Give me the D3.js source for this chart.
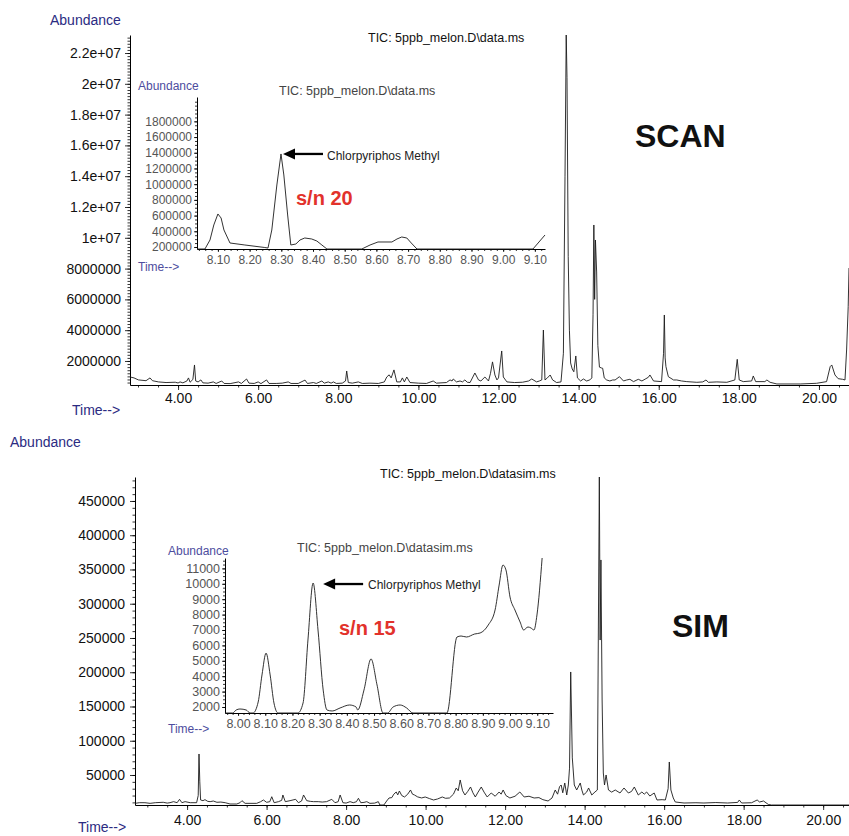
<!DOCTYPE html>
<html>
<head>
<meta charset="utf-8">
<script src="https://cdn.jsdelivr.net/npm/d3@7"></script>
<style>
body { margin: 0; background: #fff; }
svg text { font-family: "Liberation Sans", Arial, sans-serif; }
</style>
</head>
<body>
<div id="view"></div>
<script>
// ---- data: [retention time (min), abundance] ----
const scanTrace = [
  [2.80, 961000], [2.90, 900000], [3.01, 770000], [3.20, 720000], [3.30, 900000], [3.36, 720000],
  [3.51, 640000], [3.70, 600000], [3.93, 620000], [4.00, 571000], [4.05, 640000], [4.12, 580000],
  [4.22, 700000], [4.26, 900000], [4.30, 620000], [4.37, 800000], [4.41, 1740000], [4.44, 700000],
  [4.50, 640000], [4.57, 770000], [4.62, 580000], [4.75, 560000], [4.88, 640000], [4.95, 540000],
  [5.09, 700000], [5.15, 540000], [5.30, 530000], [5.51, 640000], [5.58, 540000], [5.71, 830000],
  [5.77, 560000], [5.90, 540000], [6.00, 640000], [6.07, 530000], [6.21, 770000], [6.27, 540000],
  [6.45, 540000], [6.60, 560000], [6.75, 640000], [6.82, 540000], [7.00, 540000], [7.17, 760000],
  [7.23, 540000], [7.38, 600000], [7.45, 540000], [7.59, 700000], [7.65, 560000], [7.75, 640000],
  [7.82, 560000], [7.88, 640000], [7.95, 540000], [8.10, 560000], [8.18, 700000], [8.21, 1350000],
  [8.25, 600000], [8.35, 560000], [8.50, 640000], [8.60, 540000], [8.79, 560000], [9.00, 540000],
  [9.15, 640000], [9.21, 960000], [9.27, 1100000], [9.32, 900000], [9.39, 1420000], [9.46, 640000],
  [9.55, 640000], [9.60, 900000], [9.65, 640000], [9.71, 960000], [9.79, 600000], [10.00, 560000],
  [10.20, 540000], [10.37, 700000], [10.45, 560000], [10.70, 600000], [10.79, 770000], [10.84, 700000],
  [10.87, 830000], [10.95, 640000], [11.04, 700000], [11.10, 640000], [11.16, 770000], [11.22, 620000],
  [11.29, 600000], [11.41, 1220000], [11.50, 770000], [11.56, 700000], [11.66, 960000], [11.75, 700000],
  [11.80, 1200000], [11.85, 1940000], [11.91, 1090000], [11.96, 770000], [12.00, 900000], [12.08, 2650000],
  [12.12, 960000], [12.21, 640000], [12.40, 600000], [12.60, 620000], [12.75, 700000], [12.83, 830000],
  [12.95, 640000], [13.02, 700000], [13.08, 770000], [13.12, 4010000], [13.16, 770000], [13.22, 900000],
  [13.29, 1090000], [13.35, 770000], [13.45, 600000], [13.56, 640000], [13.62, 2500000], [13.66, 14000000],
  [13.69, 23169000], [13.71, 20400000], [13.74, 8800000], [13.77, 4000000], [13.80, 1870000], [13.84, 1480000],
  [13.88, 1300000], [13.93, 2325000], [13.97, 900000], [14.05, 700000], [14.12, 830000], [14.20, 700000],
  [14.28, 770000], [14.33, 900000], [14.36, 5000000], [14.38, 10831000], [14.40, 6000000], [14.42, 9857000],
  [14.45, 7779000], [14.48, 3000000], [14.52, 1600000], [14.57, 1545000], [14.60, 1526000], [14.64, 900000],
  [14.70, 766000], [14.78, 701000], [14.85, 766000], [14.91, 766000], [15.02, 980000], [15.12, 701000],
  [15.20, 766000], [15.28, 810000], [15.37, 660000], [15.49, 810000], [15.58, 701000], [15.68, 850000],
  [15.74, 940000], [15.78, 1091000], [15.87, 701000], [16.07, 660000], [16.12, 2500000], [16.14, 4987000],
  [16.16, 2200000], [16.18, 1632000], [16.24, 980000], [16.37, 766000], [16.45, 766000], [16.57, 701000],
  [16.70, 660000], [16.95, 615000], [17.10, 640000], [17.18, 766000], [17.24, 615000], [17.45, 640000],
  [17.70, 615000], [17.90, 766000], [17.96, 2108000], [18.01, 766000], [18.11, 660000], [18.32, 701000],
  [18.36, 1026000], [18.42, 660000], [18.65, 660000], [18.70, 766000], [18.78, 615000], [18.95, 506000],
  [19.53, 506000], [19.94, 550000], [20.19, 660000], [20.28, 1632000], [20.32, 1740000], [20.40, 1091000],
  [20.48, 850000], [20.59, 810000], [20.65, 766000], [20.69, 2714000], [20.73, 5526000], [20.75, 8039000]
];

const simTrace = [
  [2.69, 8600], [2.80, 9560], [2.94, 9560], [3.07, 8600], [3.20, 9560], [3.40, 10150], [3.50, 9000],
  [3.57, 9560], [3.66, 11100], [3.75, 9560], [3.81, 14500], [3.87, 9560], [3.95, 11100], [4.08, 9560],
  [4.24, 9560], [4.28, 20000], [4.30, 80660], [4.32, 40000], [4.34, 13500], [4.40, 12500], [4.45, 14000],
  [4.52, 11500], [4.58, 11100], [4.66, 12000], [4.75, 10150], [4.85, 10500], [4.96, 9560], [5.08, 7660],
  [5.25, 7660], [5.33, 9500], [5.38, 12500], [5.46, 8600], [5.75, 8600], [5.85, 11000], [5.92, 13500],
  [6.00, 10150], [6.08, 11000], [6.13, 18300], [6.19, 9560], [6.30, 11100], [6.38, 13000], [6.41, 20800],
  [6.47, 11100], [6.59, 12500], [6.73, 14500], [6.80, 9560], [6.88, 12000], [6.93, 20800], [7.01, 12500],
  [7.10, 11500], [7.18, 11100], [7.30, 11100], [7.40, 10500], [7.51, 11100], [7.64, 14500], [7.72, 9560],
  [7.80, 11000], [7.85, 20800], [7.92, 9560], [8.00, 9000], [8.10, 11100], [8.18, 9560], [8.26, 11000],
  [8.31, 16000], [8.37, 9560], [8.45, 10000], [8.52, 11100], [8.60, 8600], [8.72, 9000], [8.81, 11100],
  [8.85, 6200], [8.95, 6200], [9.02, 12000], [9.08, 16420], [9.15, 17000], [9.20, 22000], [9.26, 25180],
  [9.30, 21000], [9.34, 26640], [9.40, 20000], [9.47, 17880], [9.55, 22000], [9.62, 28100], [9.67, 22000],
  [9.72, 20800], [9.80, 18000], [9.90, 16500], [9.99, 17880], [10.10, 15500], [10.20, 13500], [10.30, 15000],
  [10.42, 17880], [10.50, 16000], [10.60, 16420], [10.70, 22000], [10.77, 31020], [10.82, 27000],
  [10.87, 42700], [10.93, 27000], [10.99, 20800], [11.06, 26000], [11.13, 32480], [11.19, 24000],
  [11.25, 17880], [11.32, 25000], [11.40, 32480], [11.47, 25000], [11.55, 17880], [11.65, 23720],
  [11.75, 19000], [11.85, 25180], [11.90, 22000], [11.95, 28100], [12.02, 20000], [12.12, 16420],
  [12.25, 19000], [12.37, 25180], [12.48, 17880], [12.60, 19000], [12.73, 16420], [12.85, 17000],
  [12.95, 14000], [13.08, 12040], [13.18, 16420], [13.26, 28100], [13.32, 22000], [13.37, 33000],
  [13.41, 35400], [13.45, 24000], [13.50, 38320], [13.55, 20800], [13.59, 35400], [13.62, 60000],
  [13.65, 200380], [13.69, 75000], [13.74, 35400], [13.80, 28100], [13.89, 38320], [13.93, 28000],
  [13.97, 20800], [14.05, 25000], [14.10, 31020], [14.18, 20800], [14.26, 25180], [14.32, 28100],
  [14.37, 485080], [14.39, 247000], [14.41, 363900], [14.44, 159500], [14.47, 52920], [14.50, 35400],
  [14.54, 50000], [14.60, 28100], [14.68, 25000], [14.77, 28100], [14.89, 23720], [14.99, 31020],
  [15.10, 23720], [15.18, 26000], [15.25, 32480], [15.35, 20800], [15.44, 25180], [15.50, 22000],
  [15.56, 25180], [15.64, 19300], [15.75, 23720], [15.82, 13500], [15.95, 14000], [16.03, 13500],
  [16.10, 30000], [16.13, 68980], [16.17, 28100], [16.23, 16420], [16.28, 10580], [16.50, 9120],
  [16.80, 9500], [17.00, 9120], [17.30, 9800], [17.60, 9120], [17.85, 10000], [17.89, 13500],
  [17.95, 9120], [18.20, 9500], [18.34, 13500], [18.40, 10580], [18.50, 12040], [18.62, 7000],
  [18.70, 6200], [20.65, 6200]
];

const scanInsetTrace = [
  [8.034, 174500], [8.059, 174500], [8.075, 289200], [8.087, 480300], [8.100, 620400], [8.110, 569400],
  [8.119, 416600], [8.138, 251000], [8.185, 225500], [8.248, 193600], [8.258, 187000], [8.270, 416600],
  [8.286, 989800], [8.299, 1384700], [8.308, 1117000], [8.320, 607600], [8.330, 225500], [8.346, 238200],
  [8.359, 289200], [8.374, 314600], [8.396, 302000], [8.412, 276400], [8.428, 225500], [8.444, 174500],
  [8.554, 174500], [8.580, 225500], [8.605, 263700], [8.649, 263700], [8.665, 302000], [8.680, 327400],
  [8.696, 314600], [8.710, 251000], [8.728, 174500], [9.094, 174500], [9.132, 352900]
];

const simInsetTrace = [
  [7.952, 1610], [7.980, 1610], [7.993, 1805], [8.007, 1870], [8.030, 1805], [8.044, 1610], [8.055, 1610],
  [8.074, 2325], [8.088, 4080], [8.103, 5500], [8.118, 4080], [8.132, 2260], [8.147, 1610], [8.220, 1610],
  [8.239, 2260], [8.257, 6350], [8.276, 10050], [8.294, 7000], [8.313, 3100], [8.327, 1805], [8.346, 1740],
  [8.375, 1935], [8.410, 2130], [8.434, 2000], [8.440, 1805], [8.463, 3100], [8.489, 5120], [8.511, 3430],
  [8.533, 1610], [8.550, 1610], [8.570, 2000], [8.596, 2130], [8.620, 1935], [8.643, 1610], [8.768, 1610],
  [8.805, 6545], [8.820, 6610], [8.840, 6545], [8.870, 6740], [8.890, 6805], [8.920, 7325], [8.945, 8300],
  [8.960, 9920], [8.974, 11220], [8.985, 10900], [9.000, 9140], [9.018, 8300], [9.037, 7520], [9.050, 7000],
  [9.066, 7195], [9.077, 7130], [9.088, 7000], [9.099, 7975], [9.118, 11675]
];

// ---- ticks ----
const mainTimeTicks = [4, 6, 8, 10, 12, 14, 16, 18, 20];
const scanAbundTicks = [2e6, 4e6, 6e6, 8e6, 1e7, 1.2e7, 1.4e7, 1.6e7, 1.8e7, 2e7, 2.2e7];
const scanAbundLabels = ["2000000", "4000000", "6000000", "8000000", "1e+07", "1.2e+07", "1.4e+07",
  "1.6e+07", "1.8e+07", "2e+07", "2.2e+07"];
const simAbundTicks = [50000, 100000, 150000, 200000, 250000, 300000, 350000, 400000, 450000];
const scanInsetTimeTicks = [8.1, 8.2, 8.3, 8.4, 8.5, 8.6, 8.7, 8.8, 8.9, 9.0, 9.1];
const scanInsetAbundTicks = [200000, 400000, 600000, 800000, 1000000, 1200000, 1400000, 1600000, 1800000];
const simInsetTimeTicks = [8.0, 8.1, 8.2, 8.3, 8.4, 8.5, 8.6, 8.7, 8.8, 8.9, 9.0, 9.1];
const simInsetAbundTicks = [2000, 3000, 4000, 5000, 6000, 7000, 8000, 9000, 10000, 11000];

const NAVY = "#2b2b82";
const INSET_NAVY = "#4d4d9e";
const GREY = "#555";
const RED = "#e2322b";

const svg = d3.select("#view").append("svg")
    .attr("width", 849)
    .attr("height", 836);

// draws the x and y axis with major labelled ticks and small minor ticks
function drawAxes(x, y, o) {
  const x0 = x.range()[0], yb = y.range()[0];

  const minorX = svg.append("g").attr("transform", `translate(0,${yb})`)
      .call(d3.axisBottom(x).tickValues(o.minorX).tickSize(o.minorLen).tickFormat("").tickSizeOuter(0));
  minorX.select(".domain").remove();
  const majorX = svg.append("g").attr("transform", `translate(0,${yb})`)
      .call(d3.axisBottom(x).tickValues(o.xTicks).tickSize(o.majorLen).tickPadding(o.xPad)
        .tickFormat(d3.format(".2f")).tickSizeOuter(0));

  const minorY = svg.append("g").attr("transform", `translate(${x0},0)`)
      .call(d3.axisLeft(y).tickValues(o.minorY).tickSize(o.minorLen).tickFormat("").tickSizeOuter(0));
  minorY.select(".domain").remove();
  const majorY = svg.append("g").attr("transform", `translate(${x0},0)`)
      .call(d3.axisLeft(y).tickValues(o.yTicks).tickSize(o.majorLen).tickPadding(o.yPad)
        .tickFormat(o.yFormat).tickSizeOuter(0));

  [minorX, majorX, minorY, majorY].forEach(g => {
    g.selectAll("line").attr("stroke", "#000").attr("stroke-width", 0.8);
    g.selectAll(".domain").attr("stroke", "#000").attr("stroke-width", 1);
  });
  [majorX, majorY].forEach(g => {
    g.attr("font-family", null).attr("font-size", null);
    g.selectAll("text").attr("font-size", o.fontSize).attr("fill", o.textColor);
  });
}

function drawTrace(data, x, y, curve) {
  svg.append("path")
      .datum(data)
      .attr("fill", "none")
      .attr("stroke", "#1c1c1c")
      .attr("stroke-width", 0.9)
      .attr("stroke-linejoin", "round")
      .attr("d", d3.line().curve(curve || d3.curveLinear)
        .x(d => x(d[0]))
        .y(d => y(Math.max(y.domain()[0], Math.min(y.domain()[1], d[1])))));
}

function label(txt, xPos, yPos, size, color, weight, anchor) {
  svg.append("text")
      .attr("x", xPos).attr("y", yPos)
      .attr("font-size", size)
      .attr("fill", color)
      .attr("font-weight", weight || "normal")
      .attr("text-anchor", anchor || "start")
      .text(txt);
}

function arrow(tipX, tipY, len, color) {
  svg.append("line")
      .attr("x1", tipX + 10).attr("y1", tipY)
      .attr("x2", tipX + len).attr("y2", tipY)
      .attr("stroke", color).attr("stroke-width", 2.3);
  svg.append("path")
      .attr("d", `M${tipX},${tipY}L${tipX + 12},${tipY - 5.5}L${tipX + 12},${tipY + 5.5}Z`)
      .attr("fill", color);
}

// ---------- SCAN panel ----------
const xScan = d3.scaleLinear().domain([2.80, 20.75]).range([130, 849]);
const yScan = d3.scaleLinear().domain([440000, 23170000]).range([385, 35]);
drawAxes(xScan, yScan, {
  xTicks: mainTimeTicks, minorX: d3.range(3, 20.75, 0.5),
  yTicks: scanAbundTicks, minorY: d3.range(600000, 23100000, 200000),
  yFormat: (d, i) => scanAbundLabels[i],
  majorLen: 5, minorLen: 2.5, xPad: 3, yPad: 4, fontSize: 14, textColor: "#111"
});
drawTrace(scanTrace, xScan, yScan);
label("Abundance", 50, 25, 14, NAVY);
label("Time-->", 72, 415, 14, NAVY);
label("TIC: 5ppb_melon.D\\data.ms", 368, 42, 12.5, "#111");
label("SCAN", 635, 147, 32, "#111", "bold");

// SCAN inset
const xScanIn = d3.scaleLinear().domain([8.034, 9.132]).range([197, 545]);
const yScanIn = d3.scaleLinear().domain([174500, 2110000]).range([249, 97]);
drawAxes(xScanIn, yScanIn, {
  xTicks: scanInsetTimeTicks, minorX: d3.range(8.04, 9.13, 0.02),
  yTicks: scanInsetAbundTicks, minorY: d3.range(200000, 2100000, 50000),
  yFormat: d => String(d),
  majorLen: 3, minorLen: 2, xPad: 3, yPad: 2, fontSize: 12, textColor: GREY
});
drawTrace(scanInsetTrace, xScanIn, yScanIn);
label("Abundance", 138, 90, 12, INSET_NAVY);
label("Time-->", 138, 271, 12, INSET_NAVY);
label("TIC: 5ppb_melon.D\\data.ms", 279, 95, 12.5, "#444");
arrow(xScanIn(8.299) + 2, yScanIn(1384700), 40, "#000");
label("Chlorpyriphos Methyl", 327, 160, 12, "#222");
label("s/n 20", 296, 205, 20, RED, "bold");

// ---------- SIM panel ----------
const xSim = d3.scaleLinear().domain([2.69, 20.65]).range([135, 849]);
const ySim = d3.scaleLinear().domain([6200, 485000]).range([805, 477]);
drawAxes(xSim, ySim, {
  xTicks: mainTimeTicks, minorX: d3.range(3, 20.65, 0.5),
  yTicks: simAbundTicks, minorY: d3.range(10000, 485000, 10000),
  yFormat: d => String(d),
  majorLen: 5, minorLen: 2.5, xPad: 5, yPad: 5, fontSize: 14, textColor: "#111"
});
drawTrace(simTrace, xSim, ySim);
label("Abundance", 10, 447, 14, NAVY);
label("Time-->", 78, 832, 14, NAVY);
label("TIC: 5ppb_melon.D\\datasim.ms", 380, 478, 12.5, "#111");
label("SIM", 672, 637, 32, "#111", "bold");

// SIM inset
const xSimIn = d3.scaleLinear().domain([7.952, 9.158]).range([225, 553]);
const ySimIn = d3.scaleLinear().domain([1610, 11675]).range([713, 558]);
drawAxes(xSimIn, ySimIn, {
  xTicks: simInsetTimeTicks, minorX: d3.range(7.96, 9.158, 0.02),
  yTicks: simInsetAbundTicks, minorY: d3.range(2000, 11675, 250),
  yFormat: d => String(d),
  majorLen: 3, minorLen: 2, xPad: 3, yPad: 2, fontSize: 12.5, textColor: GREY
});
drawTrace(simInsetTrace, xSimIn, ySimIn, d3.curveMonotoneX);
label("Abundance", 168, 555, 12, INSET_NAVY);
label("Time-->", 168, 733, 12, INSET_NAVY);
label("TIC: 5ppb_melon.D\\datasim.ms", 297, 552, 12.5, "#444");
arrow(xSimIn(8.276) + 10, ySimIn(10050) + 1, 40, "#000");
label("Chlorpyriphos Methyl", 368, 589, 12, "#222");
label("s/n 15", 339, 635, 20, RED, "bold");
</script>
</body>
</html>
